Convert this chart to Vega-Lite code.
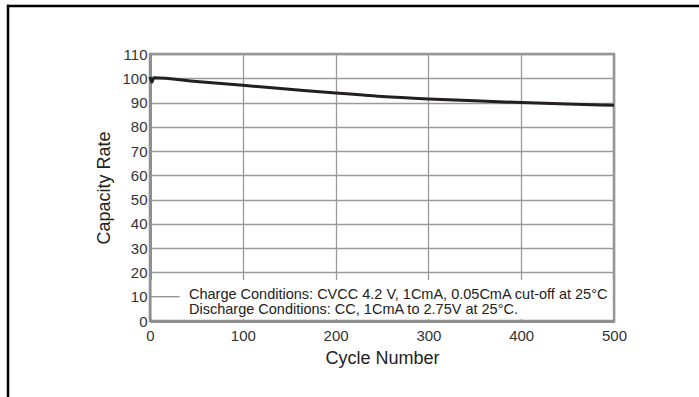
{
  "$schema": "https://vega.github.io/schema/vega-lite/v6.json",
  "width": 464,
  "height": 267,
  "autosize": {"type": "none"},
  "padding": {"left": 150, "top": 54, "right": 85, "bottom": 76},
  "background": "white",
  "config": {
    "font": "Liberation Sans",
    "view": {"stroke": "#8f8f8f", "strokeWidth": 2.5},
    "axis": {
      "grid": true,
      "gridColor": "#9a9a9a",
      "gridWidth": 1.3,
      "domainColor": "#8f8f8f",
      "domainWidth": 3,
      "ticks": false,
      "labelFontSize": 15,
      "labelColor": "#333333",
      "labelFlush": false,
      "labelOverlap": false,
      "titleFontSize": 18,
      "titleFontWeight": "normal",
      "titleColor": "#222222"
    }
  },
  "layer": [
    {
      "data": {"values": [
        {"cycle": 0, "capacity": 100.6},
        {"cycle": 2, "capacity": 98.4},
        {"cycle": 4, "capacity": 100.2},
        {"cycle": 50, "capacity": 98.7},
        {"cycle": 100, "capacity": 97.1},
        {"cycle": 150, "capacity": 95.5},
        {"cycle": 200, "capacity": 93.9},
        {"cycle": 250, "capacity": 92.5},
        {"cycle": 300, "capacity": 91.5},
        {"cycle": 350, "capacity": 90.7},
        {"cycle": 400, "capacity": 90.0},
        {"cycle": 450, "capacity": 89.4},
        {"cycle": 500, "capacity": 88.9}
      ]},
      "mark": {"type": "line", "color": "#231f20", "strokeWidth": 3, "interpolate": "monotone"},
      "encoding": {
        "x": {
          "field": "cycle", "type": "quantitative",
          "scale": {"domain": [0, 500], "nice": false, "zero": false},
          "axis": {"values": [0, 100, 200, 300, 400, 500], "title": "Cycle Number", "labelPadding": 7, "titlePadding": 6}
        },
        "y": {
          "field": "capacity", "type": "quantitative",
          "scale": {"domain": [0, 110], "nice": false, "zero": false},
          "axis": {"values": [0, 10, 20, 30, 40, 50, 60, 70, 80, 90, 100, 110], "title": "Capacity Rate", "labelPadding": 3, "titlePadding": 8}
        }
      }
    },
    {
      "data": {"values": [{}]},
      "mark": {"type": "rect", "color": "white"},
      "encoding": {
        "x": {"datum": 1.7, "type": "quantitative", "scale": {"domain": [0, 500], "nice": false, "zero": false},
          "axis": {"values": [0, 100, 200, 300, 400, 500], "title": "Cycle Number", "labelPadding": 7, "titlePadding": 6}},
        "x2": {"datum": 498.4},
        "y": {"datum": 0.8, "type": "quantitative", "scale": {"domain": [0, 110], "nice": false, "zero": false},
          "axis": {"values": [0, 10, 20, 30, 40, 50, 60, 70, 80, 90, 100, 110], "title": "Capacity Rate", "labelPadding": 3, "titlePadding": 8}},
        "y2": {"datum": 16.9}
      }
    },
    {
      "data": {"values": [{}]},
      "mark": {"type": "rule", "color": "#8f8f8f", "strokeWidth": 1.3},
      "encoding": {
        "x": {"datum": 0, "type": "quantitative", "scale": {"domain": [0, 500], "nice": false, "zero": false},
          "axis": {"values": [0, 100, 200, 300, 400, 500], "title": "Cycle Number", "labelPadding": 7, "titlePadding": 6}},
        "x2": {"datum": 32},
        "y": {"datum": 10, "type": "quantitative", "scale": {"domain": [0, 110], "nice": false, "zero": false},
          "axis": {"values": [0, 10, 20, 30, 40, 50, 60, 70, 80, 90, 100, 110], "title": "Capacity Rate", "labelPadding": 3, "titlePadding": 8}}
      }
    },
    {
      "data": {"values": [{}]},
      "mark": {
        "type": "text",
        "text": ["Charge Conditions: CVCC 4.2 V, 1CmA, 0.05CmA cut-off at 25°C", "Discharge Conditions: CC, 1CmA to 2.75V at 25°C."],
        "align": "left",
        "baseline": "top",
        "fontSize": 14.5,
        "lineHeight": 15,
        "color": "#222222"
      },
      "encoding": {
        "x": {"datum": 42, "type": "quantitative", "scale": {"domain": [0, 500], "nice": false, "zero": false},
          "axis": {"values": [0, 100, 200, 300, 400, 500], "title": "Cycle Number", "labelPadding": 7, "titlePadding": 6}},
        "y": {"datum": 13.7, "type": "quantitative", "scale": {"domain": [0, 110], "nice": false, "zero": false},
          "axis": {"values": [0, 10, 20, 30, 40, 50, 60, 70, 80, 90, 100, 110], "title": "Capacity Rate", "labelPadding": 3, "titlePadding": 8}}
      }
    },
    {
      "data": {"values": [{}]},
      "mark": {"type": "rule", "color": "black", "strokeWidth": 2.5},
      "encoding": {
        "x": {"datum": -154, "type": "quantitative", "scale": {"domain": [0, 500], "nice": false, "zero": false},
          "axis": {"values": [0, 100, 200, 300, 400, 500], "title": "Cycle Number", "labelPadding": 7, "titlePadding": 6}},
        "x2": {"datum": 620},
        "y": {"datum": 129.8, "type": "quantitative", "scale": {"domain": [0, 110], "nice": false, "zero": false},
          "axis": {"values": [0, 10, 20, 30, 40, 50, 60, 70, 80, 90, 100, 110], "title": "Capacity Rate", "labelPadding": 3, "titlePadding": 8}}
      }
    },
    {
      "data": {"values": [{}]},
      "mark": {"type": "rule", "color": "black", "strokeWidth": 2.5},
      "encoding": {
        "x": {"datum": -153, "type": "quantitative", "scale": {"domain": [0, 500], "nice": false, "zero": false},
          "axis": {"values": [0, 100, 200, 300, 400, 500], "title": "Cycle Number", "labelPadding": 7, "titlePadding": 6}},
        "y": {"datum": -40, "type": "quantitative", "scale": {"domain": [0, 110], "nice": false, "zero": false},
          "axis": {"values": [0, 10, 20, 30, 40, 50, 60, 70, 80, 90, 100, 110], "title": "Capacity Rate", "labelPadding": 3, "titlePadding": 8}},
        "y2": {"datum": 130.3}
      }
    }
  ]
}
